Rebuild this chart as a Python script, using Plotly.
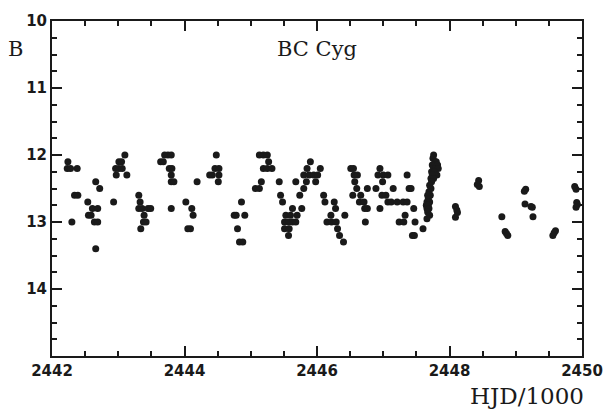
import plotly.graph_objects as go

# HJD/1000 values and B magnitudes
hjd = [
    # 2442-2443.5
    2442.24, 2442.23, 2442.28, 2442.38, 2442.66, 2442.72, 2442.34, 2442.39,
    2442.54, 2442.61, 2442.69, 2442.55, 2442.59, 2442.30, 2442.64, 2442.69,
    2442.66, 2443.10, 2443.01, 2443.05, 2442.96, 2443.01, 2443.06, 2442.97,
    2443.13, 2442.93, 2443.31, 2443.33, 2443.31, 2443.36, 2443.45, 2443.49,
    2443.39, 2443.38, 2443.42, 2443.34,
    # 2443.6-2444.9
    2443.70, 2443.75, 2443.80, 2443.64, 2443.68, 2443.77, 2443.81, 2443.80,
    2443.80, 2443.84, 2444.19, 2444.48, 2444.46, 2444.52, 2444.38, 2444.42,
    2444.52, 2444.51, 2443.80, 2444.02, 2444.11, 2444.13, 2444.05, 2444.09,
    2444.86, 2444.75, 2444.78, 2444.91, 2444.80, 2444.83, 2444.88,
    # 2445-2446.8
    2445.13, 2445.19, 2445.25, 2445.27, 2445.19, 2445.25, 2445.32, 2445.16,
    2445.07, 2445.13, 2445.43, 2445.45, 2445.48, 2445.63, 2445.77, 2445.53,
    2445.60, 2445.70, 2445.51, 2445.57, 2445.63, 2445.68, 2445.51, 2445.58,
    2445.57, 2445.74, 2445.80, 2445.68, 2445.84, 2445.98, 2445.80, 2445.88,
    2445.95, 2446.01, 2445.85, 2446.05, 2445.90, 2446.10, 2446.12, 2446.26,
    2446.28, 2446.21, 2446.42, 2446.15, 2446.22, 2446.29, 2446.31, 2446.34,
    2446.40, 2446.51, 2446.55, 2446.56, 2446.61, 2446.57, 2446.54, 2446.66,
    2446.60, 2446.64, 2446.71, 2446.73, 2446.76, 2446.72, 2446.76,
    # 2446.8-2447.6
    2446.89, 2446.95, 2446.92, 2447.00, 2447.07, 2446.99, 2447.15, 2446.98,
    2447.04, 2446.95, 2447.07, 2447.12, 2447.21, 2447.30, 2447.36, 2447.36,
    2447.39, 2447.42, 2447.46, 2447.33, 2447.24, 2447.31, 2447.48, 2447.60,
    2447.44, 2447.47,
    # dense column near 2447.7
    2447.76, 2447.75, 2447.78, 2447.80, 2447.74, 2447.82, 2447.76, 2447.79,
    2447.83, 2447.73, 2447.77, 2447.81, 2447.74, 2447.72, 2447.76, 2447.73,
    2447.70, 2447.72, 2447.69, 2447.71, 2447.67, 2447.68, 2447.66, 2447.70,
    2447.65, 2447.68, 2447.66, 2447.69, 2447.67, 2447.70, 2447.66,
    # 2448-2450
    2448.09, 2448.11, 2448.12, 2448.09, 2448.44, 2448.42, 2448.45, 2448.79,
    2448.84, 2448.86, 2448.88, 2449.15, 2449.13, 2449.14, 2449.23, 2449.25,
    2449.26, 2449.60, 2449.58, 2449.56, 2449.89, 2449.91, 2449.92, 2449.93,
    2449.91,
]
bmag = [
    12.1, 12.2, 12.2, 12.2, 12.4, 12.5, 12.6, 12.6,
    12.7, 12.8, 12.8, 12.9, 12.9, 13.0, 13.0, 13.0,
    13.4, 12.0, 12.1, 12.1, 12.2, 12.2, 12.2, 12.3,
    12.3, 12.7, 12.6, 12.7, 12.8, 12.8, 12.8, 12.8,
    12.9, 13.0, 13.0, 13.1,
    12.0, 12.0, 12.0, 12.1, 12.1, 12.2, 12.2, 12.3,
    12.4, 12.4, 12.4, 12.0, 12.2, 12.2, 12.3, 12.3,
    12.3, 12.4, 12.8, 12.7, 12.8, 12.9, 13.1, 13.1,
    12.7, 12.9, 12.9, 12.9, 13.1, 13.3, 13.3,
    12.0, 12.0, 12.0, 12.1, 12.2, 12.2, 12.2, 12.4,
    12.5, 12.5, 12.4, 12.6, 12.7, 12.8, 12.8, 12.9,
    12.9, 12.9, 13.0, 13.0, 13.0, 13.0, 13.1, 13.1,
    13.2, 12.6, 12.5, 12.4, 12.4, 12.4, 12.3, 12.3,
    12.3, 12.3, 12.2, 12.2, 12.1, 12.6, 12.7, 12.7,
    12.8, 12.9, 12.9, 13.0, 13.0, 13.0, 13.1, 13.2,
    13.3, 12.2, 12.2, 12.3, 12.3, 12.4, 12.6, 12.6,
    12.5, 12.7, 12.7, 13.0, 12.5, 12.8, 12.8,
    12.5, 12.2, 12.3, 12.3, 12.3, 12.4, 12.5, 12.6,
    12.6, 12.8, 12.7, 12.7, 12.7, 12.7, 12.7, 12.3,
    12.5, 12.5, 12.8, 12.9, 13.0, 13.0, 13.0, 13.1,
    13.2, 13.2,
    12.0, 12.05, 12.1, 12.1, 12.15, 12.15, 12.2, 12.2,
    12.2, 12.25, 12.25, 12.3, 12.3, 12.35, 12.35, 12.4,
    12.45, 12.5, 12.55, 12.6, 12.6, 12.65, 12.7, 12.7,
    12.75, 12.75, 12.8, 12.8, 12.85, 12.9, 12.95,
    12.77, 12.82, 12.86, 12.93, 12.38, 12.44, 12.47, 12.92,
    13.14, 13.17, 13.2, 12.51, 12.54, 12.73, 12.77, 12.78,
    12.92, 13.13, 13.16, 13.2, 12.47, 12.51, 12.71, 12.74,
    12.78,
]

x_ticks = [2442, 2444, 2446, 2448, 2450]
y_ticks = [10, 11, 12, 13, 14]

fig = go.Figure()
fig.add_trace(go.Scatter(
    x=hjd, y=bmag, mode="markers",
    marker=dict(color="#1a1a1a", size=7, line=dict(width=0)),
    showlegend=False, cliponaxis=True,
))

tickfont = dict(family="DejaVu Sans", size=15, color="#1a1a1a", weight="bold")
axis_common = dict(
    showgrid=False, zeroline=False, showline=True, linecolor="#1a1a1a",
    linewidth=2, mirror="ticks", ticks="inside", ticklen=10, tickwidth=2,
    tickcolor="#1a1a1a", tickfont=tickfont,
)
fig.update_xaxes(
    range=[2442, 2450], tickvals=x_ticks, ticktext=[str(v) for v in x_ticks],
    minor=dict(dtick=0.5, ticks="inside", ticklen=5, tickwidth=1.5,
               tickcolor="#1a1a1a", showgrid=False),
    **axis_common,
)
fig.update_yaxes(
    range=[15, 10], tickvals=y_ticks, ticktext=[str(v) for v in y_ticks],
    minor=dict(dtick=0.25, ticks="inside", ticklen=5, tickwidth=1.5,
               tickcolor="#1a1a1a", showgrid=False),
    **axis_common,
)

serif = "DejaVu Serif"
fig.add_annotation(text="BC Cyg", xref="paper", yref="paper", x=0.5, y=0.915,
                   showarrow=False, font=dict(family=serif, size=21, color="#1a1a1a"),
                   xanchor="center", yanchor="middle")
fig.add_annotation(text="B", xref="paper", yref="paper", x=-0.068, y=0.915,
                   showarrow=False, font=dict(family=serif, size=21, color="#1a1a1a"),
                   xanchor="center", yanchor="middle")
fig.add_annotation(text="HJD/1000", xref="paper", yref="paper", x=1.008, y=-0.12,
                   showarrow=False, font=dict(family=serif, size=23, color="#1a1a1a"),
                   xanchor="right", yanchor="middle")

fig.update_layout(
    width=615, height=410,
    margin=dict(l=52, r=21, t=14, b=54),
    paper_bgcolor="white", plot_bgcolor="white",
)

fig.write_html("out.html")
